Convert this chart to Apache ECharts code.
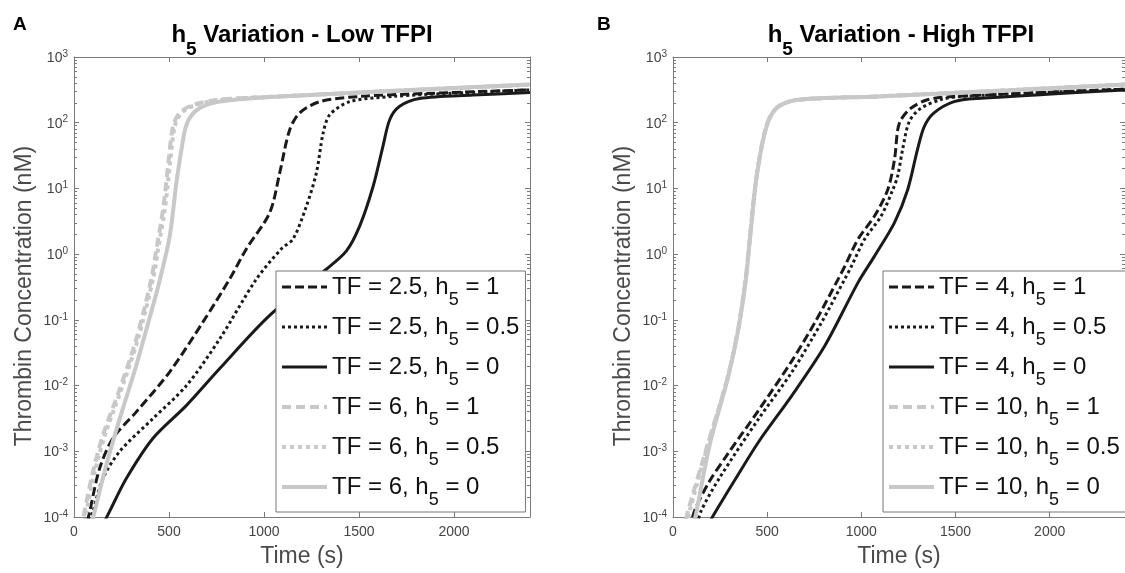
<!DOCTYPE html>
<html>
<head>
<meta charset="utf-8">
<title>h5 Variation</title>
<script src="https://cdn.jsdelivr.net/npm/echarts@6/dist/echarts.min.js"></script>
</head>
<body style="margin:0;background:#fff;">
<div id="container" style="width:1125px;height:573px;"></div>
<script>
// thrombin (nM) vs time (s)
// panel A - low TFPI
var tA1 = [55, 83, 135, 205, 328, 504, 679, 819, 907, 1030, 1083, 1135, 1188, 1293, 1504, 1900, 2400];
var cA1 = [5.5e-5, 1.23e-4, 5.5e-4, 1.58e-3, 3.98e-3, 1.62e-2, 9.3e-2, 0.417, 1.2, 4.27, 17.4, 77.6, 141, 209, 251, 282, 316];
var tA2 = [65, 100, 153, 241, 416, 592, 767, 960, 1091, 1153, 1223, 1276, 1311, 1346, 1451, 1679, 2000, 2400];
var cA2 = [5.75e-5, 1.23e-4, 3.89e-4, 1e-3, 3.16e-3, 1e-2, 5.13e-2, 0.417, 1.2, 1.7, 5.37, 17.4, 69.2, 132, 209, 251, 282, 316];
var tA3 = [150, 188, 276, 416, 592, 767, 1030, 1328, 1434, 1504, 1574, 1626, 1662, 1714, 1819, 2100, 2400];
var cA3 = [7.4e-5, 1.23e-4, 3.89e-4, 1.58e-3, 5e-3, 1.82e-2, 0.117, 0.589, 1.12, 2.69, 10.7, 43.7, 112, 178, 234, 263, 288];
var tA4 = [40, 56, 100, 153, 241, 328, 407, 434, 469, 495, 521, 556, 626, 767, 1083, 2400];
var cA4 = [6.3e-5, 1.23e-4, 4.9e-4, 1.78e-3, 8.9e-3, 5.13e-2, 0.417, 1.2, 4.79, 21.9, 87.1, 141, 186, 224, 251, 380];
var tA5 = [50, 66, 110, 163, 250, 337, 416, 443, 478, 504, 530, 566, 640, 780, 1083, 2400];
var cA5 = [6.3e-5, 1.23e-4, 4.9e-4, 1.78e-3, 8.9e-3, 5.13e-2, 0.417, 1.2, 4.79, 21.9, 87.1, 141, 186, 224, 251, 380];
var tA6 = [85, 109, 170, 241, 328, 416, 451, 504, 539, 566, 585, 610, 660, 760, 1083, 2400];
var cA6 = [6.3e-5, 1.23e-4, 6.2e-4, 3.16e-3, 2.04e-2, 0.166, 0.398, 1.9, 12.3, 39.8, 79.4, 120, 166, 209, 251, 380];

// panel B - high TFPI
var tB1 = [90, 114, 193, 281, 456, 632, 755, 877, 913, 983, 1070, 1140, 1176, 1193, 1211, 1263, 1351, 1492, 2400];
var cB1 = [6.3e-5, 1.23e-4, 3.47e-4, 8.3e-4, 4.27e-3, 2.4e-2, 9.3e-2, 0.417, 0.66, 1.7, 3.8, 9.55, 27.5, 77.6, 112, 166, 224, 251, 324];
var tB2 = [120, 149, 246, 456, 632, 790, 912, 948, 1018, 1105, 1167, 1193, 1219, 1255, 1316, 1421, 1527, 2400];
var cB2 = [6.3e-5, 1.23e-4, 3.89e-4, 3.16e-3, 1.62e-2, 9.3e-2, 0.417, 0.66, 1.7, 3.8, 9.55, 15.5, 38.9, 105, 166, 224, 251, 324];
var tB3 = [170, 228, 334, 456, 632, 807, 983, 1070, 1176, 1246, 1298, 1334, 1386, 1492, 1614, 2400];
var cB3 = [6.3e-5, 1.23e-4, 3.89e-4, 1.41e-3, 7.1e-3, 4.07e-2, 0.372, 0.933, 3.02, 9.55, 38.9, 87.1, 141, 209, 234, 316];
var tB4 = [55, 80, 184, 289, 346, 385, 410, 439, 474, 509, 561, 667, 1088, 2400];
var cB4 = [5.6e-5, 1.23e-4, 1.26e-3, 1.29e-2, 7.24e-2, 0.398, 2.0, 12.3, 49, 112, 178, 224, 251, 380];
var tB5 = [62, 88, 186, 289, 346, 385, 410, 439, 474, 509, 561, 667, 1088, 2400];
var cB5 = [5.6e-5, 1.23e-4, 1.26e-3, 1.29e-2, 7.24e-2, 0.398, 2.0, 12.3, 49, 112, 178, 224, 251, 380];
var tB6 = [100, 125, 195, 291, 347, 386, 411, 440, 475, 510, 562, 668, 1088, 2400];
var cB6 = [5.6e-5, 1.23e-4, 1.26e-3, 1.29e-2, 7.24e-2, 0.398, 2.0, 12.3, 49, 112, 178, 224, 251, 380];

var namesA = ['TF = 2.5, h5 = 1', 'TF = 2.5, h5 = 0.5', 'TF = 2.5, h5 = 0', 'TF = 6, h5 = 1', 'TF = 6, h5 = 0.5', 'TF = 6, h5 = 0'];
var namesB = ['TF = 4, h5 = 1', 'TF = 4, h5 = 0.5', 'TF = 4, h5 = 0', 'TF = 10, h5 = 1', 'TF = 10, h5 = 0.5', 'TF = 10, h5 = 0'];

var xTicks = [0, 500, 1000, 1500, 2000];
var yTicks = [1e-4, 1e-3, 1e-2, 1e-1, 1, 10, 100, 1000];

var FONT = "'Liberation Sans', Arial, Helvetica, sans-serif";
var axisColor = '#7a7a7a';
var black = '#1a1a1a', grey = '#c8c8c8';
var styles = [
	{color: black, width: 3, type: [9, 4]},
	{color: black, width: 3, type: [3, 3]},
	{color: black, width: 3, type: 'solid'},
	{color: grey, width: 4, type: [9, 5]},
	{color: grey, width: 4, type: [4, 4]},
	{color: grey, width: 4, type: 'solid'}
];

// minor ticks at 2..9 x 10^n
var yMinor = [];
yTicks.slice(0, -1).forEach(function (d) {
	for (var k = 2; k < 10; k++) yMinor.push(k * d);
});

function pairs(t, c) {
	return t.map(function (v, i) { return [v, c[i]]; });
}

function xAxes(g) {
	return [{
		type: 'value', gridIndex: g, position: 'bottom', min: 0, max: 2400, interval: 500,
		axisLine: {show: true, lineStyle: {color: axisColor}},
		axisTick: {inside: true, length: 5, customValues: xTicks, lineStyle: {color: axisColor}},
		axisLabel: {color: '#444', fontSize: 14, fontFamily: FONT, margin: 8, customValues: xTicks,
			formatter: function (v) { return String(v); }},
		splitLine: {show: false},
		name: 'Time (s)', nameLocation: 'middle', nameGap: 28,
		nameTextStyle: {fontSize: 23, color: '#4a4a4a', fontFamily: FONT}
	}, {
		type: 'value', gridIndex: g, position: 'top', min: 0, max: 2400, interval: 500,
		axisLine: {show: true, lineStyle: {color: axisColor}},
		axisTick: {inside: true, length: 5, customValues: xTicks, lineStyle: {color: axisColor}},
		axisLabel: {show: false},
		splitLine: {show: false}
	}];
}

function yAxes(g) {
	var base = {type: 'log', logBase: 10, gridIndex: g, min: 1e-4, max: 1e3, splitLine: {show: false}};
	return [
		Object.assign({}, base, {
			position: 'left', interval: 1,
			axisLine: {show: true, lineStyle: {color: axisColor}},
			axisTick: {inside: true, length: 5, lineStyle: {color: axisColor}},
			axisLabel: {
				margin: 6,
				formatter: function (v) {
					return '{b|10}{p|' + Math.round(Math.log10(v)) + '}';
				},
				rich: {
					b: {fontSize: 14, color: '#444', fontFamily: FONT, verticalAlign: 'bottom', lineHeight: 16, padding: [6, 0, 0, 0]},
					p: {fontSize: 10, color: '#444', fontFamily: FONT, verticalAlign: 'top', lineHeight: 11}
				}
			},
			name: 'Thrombin Concentration (nM)', nameLocation: 'middle', nameGap: 38,
			nameTextStyle: {fontSize: 23, color: '#4a4a4a', fontFamily: FONT, padding: [0, 18, 0, 0]}
		}),
		Object.assign({}, base, {
			position: 'left', axisLine: {show: false}, axisLabel: {show: false},
			axisTick: {inside: true, length: 3, customValues: yMinor, lineStyle: {color: axisColor}}
		}),
		Object.assign({}, base, {
			position: 'right', interval: 1,
			axisLine: {show: true, lineStyle: {color: axisColor}},
			axisTick: {inside: true, length: 5, lineStyle: {color: axisColor}},
			axisLabel: {show: false}
		}),
		Object.assign({}, base, {
			position: 'right', axisLine: {show: false}, axisLabel: {show: false},
			axisTick: {inside: true, length: 3, customValues: yMinor, lineStyle: {color: axisColor}}
		})
	];
}

function makeSeries(names, ts, cs, g) {
	return names.map(function (n, i) {
		return {
			name: n, type: 'line', xAxisIndex: g * 2, yAxisIndex: g * 4,
			data: pairs(ts[i], cs[i]),
			symbol: 'none', showSymbol: false, smooth: 0.3,
			lineStyle: styles[i], itemStyle: {color: styles[i].color},
			clip: true
		};
	});
}

function legendText(name) {
	var p = name.split('h5');
	return '{t|' + p[0] + 'h}{s|5}{t|' + p[1] + '}';
}

function legend(names, left) {
	return {
		data: names, orient: 'vertical', left: left, top: 271,
		padding: [4, 6, 3, 4], itemGap: 6, itemWidth: 45, itemHeight: 14,
		backgroundColor: '#fff', borderColor: '#777', borderWidth: 1, borderRadius: 0,
		selectedMode: false,
		itemStyle: {opacity: 0, borderWidth: 0},
		lineStyle: {width: 'inherit'},
		formatter: legendText,
		textStyle: {
			rich: {
				t: {fontSize: 24, color: '#111', fontFamily: FONT, verticalAlign: 'top', lineHeight: 24},
				s: {fontSize: 18, color: '#111', fontFamily: FONT, verticalAlign: 'top', lineHeight: 18, padding: [16, 0, 0, 0]}
			}
		}
	};
}

var titleRich = {
	h: {fontSize: 24, fontWeight: 'bold', color: '#000', fontFamily: FONT, verticalAlign: 'top', lineHeight: 24},
	s: {fontSize: 19, fontWeight: 'bold', color: '#000', fontFamily: FONT, verticalAlign: 'top', lineHeight: 19, padding: [17, 0, 0, 0]}
};

var myChart = echarts.init(document.getElementById('container'));
var option = {
	backgroundColor: '#fff',
	animation: false,
	grid: [
		{left: 74, top: 57, width: 456, height: 461},
		{left: 673, top: 57, width: 456, height: 461}
	],
	xAxis: xAxes(0).concat(xAxes(1)),
	yAxis: yAxes(0).concat(yAxes(1)),
	legend: [legend(namesA, 276), legend(namesB, 883)],
	graphic: [
		{type: 'text', x: 13, y: 15, style: {text: 'A', font: 'bold 19px ' + FONT, fill: '#000'}},
		{type: 'text', x: 597, y: 15, style: {text: 'B', font: 'bold 19px ' + FONT, fill: '#000'}},
		{type: 'text', x: 302, y: 23, style: {text: '{h|h}{s|5}{h| Variation - Low TFPI}', rich: titleRich, align: 'center', verticalAlign: 'top'}},
		{type: 'text', x: 901, y: 23, style: {text: '{h|h}{s|5}{h| Variation - High TFPI}', rich: titleRich, align: 'center', verticalAlign: 'top'}}
	],
	series: makeSeries(namesA, [tA1, tA2, tA3, tA4, tA5, tA6], [cA1, cA2, cA3, cA4, cA5, cA6], 0)
		.concat(makeSeries(namesB, [tB1, tB2, tB3, tB4, tB5, tB6], [cB1, cB2, cB3, cB4, cB5, cB6], 1))
};
myChart.setOption(option);
</script>
</body>
</html>
